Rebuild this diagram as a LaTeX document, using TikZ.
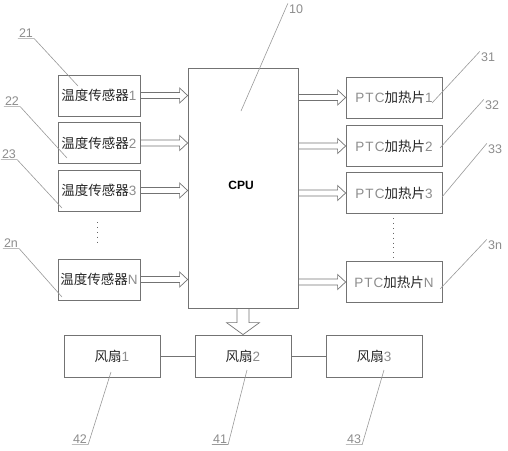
\documentclass[tikz,border=0pt]{standalone}
\usepackage{fontspec}
\setmainfont{Liberation Sans}
\newfontfamily\cjk{Noto Sans CJK SC}
\usetikzlibrary{calc}
\newcommand\zh[1]{{\cjk #1}}
\newcommand\dg[1]{{\color{black!45}#1}}
\newcommand\harr[2]{%
  \coordinate (ha) at (#1); \coordinate (hb) at (#2);
  \draw[arrline] ($(ha)+(0,-3)$) -- ($(hb)+(-8,-3)$) -- ($(hb)+(-8,-7.5)$) -- (hb)
    -- ($(hb)+(-8,7.5)$) -- ($(hb)+(-8,3)$) -- ($(ha)+(0,3)$);}
\begin{document}
\begin{tikzpicture}[x=1pt,y=-1pt,
  box/.style={draw=black!55, line width=0.8pt, inner sep=0pt, text=black!85,
    font=\fontsize{13.5}{14}\selectfont},
  sens/.style={box, minimum width=82pt, minimum height=41pt},
  ptc/.style={box, minimum width=96pt, minimum height=41pt},
  fan/.style={box, minimum width=96pt, minimum height=42pt},
  arrline/.style={draw=black!55, line width=0.7pt, line join=miter},
  lead/.style={draw=black!40, line width=0.6pt},
  num/.style={text=black!45, font=\fontsize{12.5}{13}\selectfont, inner sep=1pt},
  dots/.style={draw=black!60, line width=0.9pt, dash pattern=on 0.9pt off 4pt}]
\useasboundingbox (0,0) rectangle (508,450);
% sensors
\node[sens] (s1) at (99,95.5) {\zh{温度传感器}\dg{1}};
\node[sens] (s2) at (99,143) {\zh{温度传感器}\dg{2}};
\node[sens] (s3) at (99,190.5) {\zh{温度传感器}\dg{3}};
\node[sens] (sN) at (99,279.5) {\zh{温度传感器}\dg{N}};
% CPU
\node[box, minimum width=110pt, minimum height=240pt] (cpu) at (243,188) {};
\node[font=\bfseries\fontsize{12}{12}\selectfont] (cputxt) at (241,185) {CPU};
% PTC
\node[ptc] (p1) at (394,97.5) {\dg{\addfontfeature{LetterSpace=8}PTC}\zh{加热片}\dg{1}};
\node[ptc] (p2) at (394,146) {\dg{\addfontfeature{LetterSpace=8}PTC}\zh{加热片}\dg{2}};
\node[ptc] (p3) at (394,193) {\dg{\addfontfeature{LetterSpace=8}PTC}\zh{加热片}\dg{3}};
\node[ptc] (pN) at (394,282) {\dg{\addfontfeature{LetterSpace=8}PTC}\zh{加热片}\dg{N}};
% fans
\node[fan] (f1) at (112,356) {\zh{风扇}\dg{1}};
\node[fan] (f2) at (243,356) {\zh{风扇}\dg{2}};
\node[fan] (f3) at (374,356) {\zh{风扇}\dg{3}};
\draw[draw=black!55, line width=0.7pt] (f1.east) -- (f2.west) (f2.east) -- (f3.west);
% hollow arrows
\harr{s1.east}{s1.east -| cpu.west}
\harr{s2.east}{s2.east -| cpu.west}
\harr{s3.east}{s3.east -| cpu.west}
\harr{sN.east}{sN.east -| cpu.west}
\harr{p1.west -| cpu.east}{p1.west}
\harr{p2.west -| cpu.east}{p2.west}
\harr{p3.west -| cpu.east}{p3.west}
\harr{pN.west -| cpu.east}{pN.west}
\coordinate (da) at (cpu.south); \coordinate (db) at (f2.north);
\draw[arrline] ($(da)+(-6,0)$) -- ($(db)+(-6,-12)$) -- ($(db)+(-16.5,-12)$) -- (db)
  -- ($(db)+(16.5,-12)$) -- ($(db)+(6,-12)$) -- ($(da)+(6,0)$);
% dots
\coordinate (dl1) at (97,222); \coordinate (dl2) at (97,243);
\draw[dots] (dl1) -- (dl2);
\coordinate (dr1) at (393,218); \coordinate (dr2) at (393,259);
\draw[dots] (dr1) -- (dr2);
% leader labels
\node[num] (l21) at (26,33) {21};
\coordinate (t21) at (78,86);
\draw[lead] (l21.south west) -- (l21.south east) -- (t21);
\node[num] (l22) at (12,101) {22};
\coordinate (t22) at (67,158);
\draw[lead] (l22.south west) -- (l22.south east) -- (t22);
\node[num] (l23) at (9,154) {23};
\coordinate (t23) at (62,208);
\draw[lead] (l23.south west) -- (l23.south east) -- (t23);
\node[num] (l2n) at (11,243) {2n};
\coordinate (t2n) at (62,297);
\draw[lead] (l2n.south west) -- (l2n.south east) -- (t2n);
\node[num] (l10) at (296,9) {10};
\coordinate (t10) at (241,111);
\draw[lead] (l10.north west) -- (t10);
\node[num] (l31) at (488,57) {31};
\coordinate (t31) at (432,103);
\draw[lead] (l31.north west) -- (t31);
\node[num] (l32) at (492,105) {32};
\coordinate (t32) at (440,148);
\draw[lead] (l32.north west) -- (t32);
\node[num] (l33) at (495,149) {33};
\coordinate (t33) at (442,197);
\draw[lead] (l33.north west) -- (t33);
\node[num] (l3n) at (495,245) {3n};
\coordinate (t3n) at (440,289);
\draw[lead] (l3n.north west) -- (t3n);
\node[num] (l42) at (80,439) {42};
\coordinate (t42) at (111,372);
\draw[lead] (l42.south west) -- (l42.south east) -- (t42);
\node[num] (l41) at (220,439) {41};
\coordinate (t41) at (247,370);
\draw[lead] (l41.south west) -- (l41.south east) -- (t41);
\node[num] (l43) at (354,439) {43};
\coordinate (t43) at (384,370);
\draw[lead] (l43.south west) -- (l43.south east) -- (t43);
\end{tikzpicture}
\end{document}
